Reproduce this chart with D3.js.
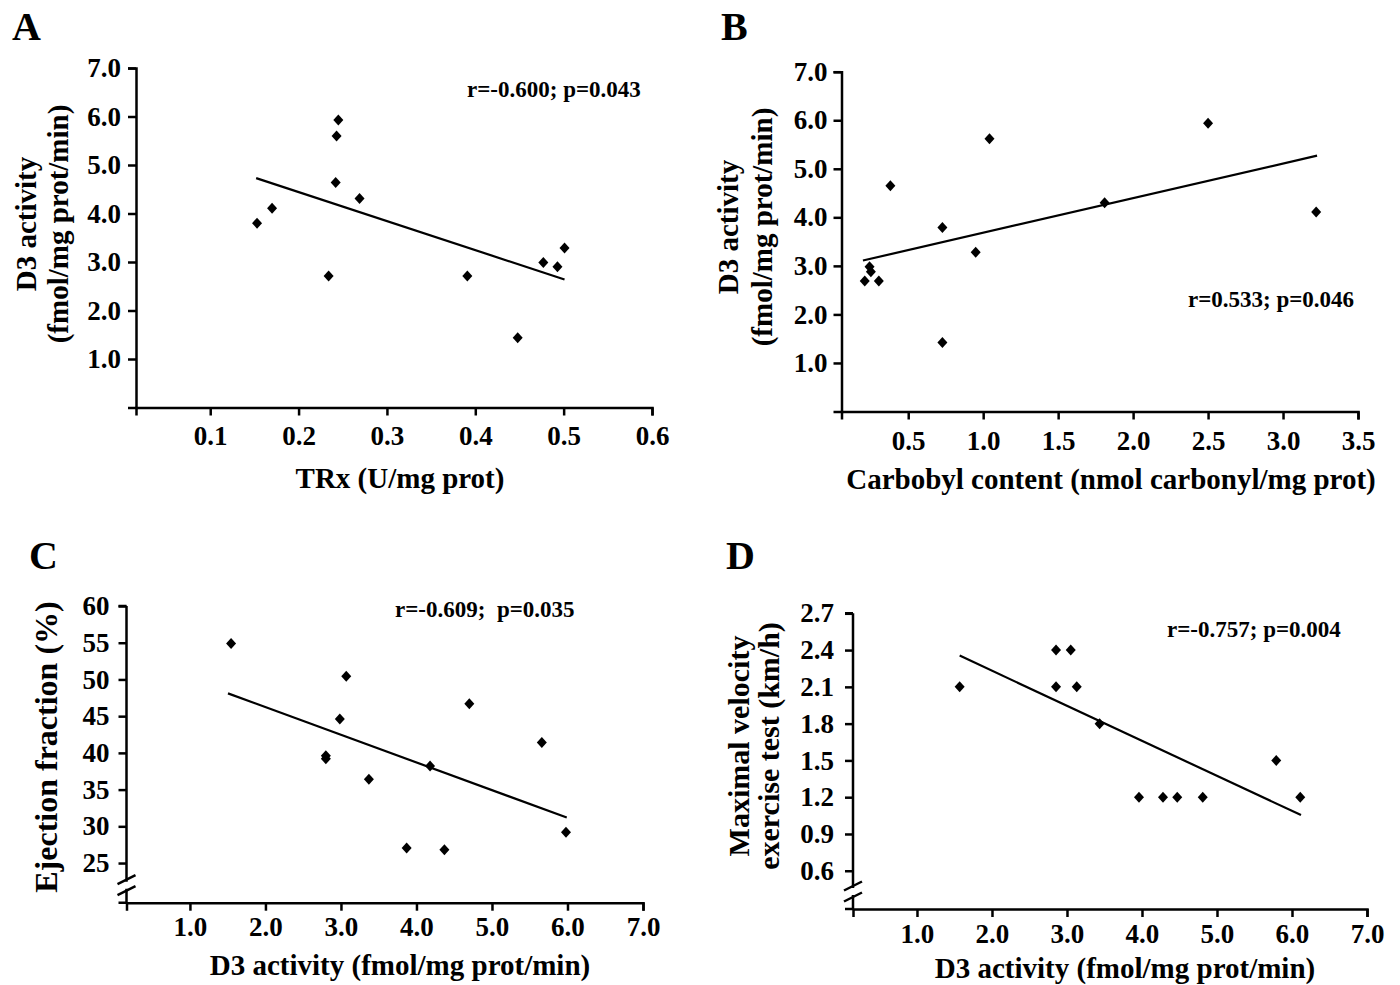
<!DOCTYPE html>
<html>
<head>
<meta charset="utf-8">
<title>D3 activity correlations</title>
<script src="https://cdn.jsdelivr.net/npm/d3@7/dist/d3.min.js"></script>
<style>
  body { margin: 0; background: #fff; }
  svg text { font-family: "Liberation Serif", "Times New Roman", serif; font-weight: bold; fill: #000; }
</style>
</head>
<body>
<script>
// ---- data ----
// A: TRx (U/mg prot) vs D3 activity
var trxA  = [0.153, 0.170, 0.234, 0.242, 0.243, 0.245, 0.269, 0.391, 0.448, 0.477, 0.493, 0.501];
var d3A   = [3.80, 4.11, 2.71, 4.64, 5.60, 5.93, 4.31, 2.71, 1.44, 2.99, 2.90, 3.29];
var fitA  = [[0.152, 4.73], [0.501, 2.64]];

// B: carbonyl content vs D3 activity
var carbB = [0.210, 0.242, 0.251, 0.304, 0.381, 0.728, 0.728, 0.950, 1.042, 1.810, 2.500, 3.221];
var d3B   = [2.69, 2.98, 2.88, 2.69, 4.65, 3.79, 1.42, 3.28, 5.62, 4.30, 5.94, 4.11];
var fitB  = [[0.198, 3.11], [3.227, 5.27]];

// C: D3 activity vs ejection fraction
var d3C   = [1.545, 2.80, 2.80, 2.985, 3.07, 3.37, 3.87, 4.18, 4.37, 4.70, 5.66, 5.98];
var efC   = [54.9, 39.6, 39.2, 44.6, 50.45, 36.4, 27.05, 38.2, 26.8, 46.7, 41.4, 29.2];
var fitC  = [[1.504, 48.1], [5.99, 31.2]];

// D: D3 activity vs maximal velocity
var d3D   = [1.569, 2.854, 3.05, 2.854, 3.13, 3.435, 3.96, 4.28, 4.47, 4.81, 5.79, 6.11];
var velD  = [2.1, 2.4, 2.4, 2.1, 2.1, 1.8, 1.2, 1.2, 1.2, 1.2, 1.5, 1.2];
var fitD  = [[1.569, 2.355], [6.12, 1.054]];

// tick values
var ticksTrx  = [0.1, 0.2, 0.3, 0.4, 0.5, 0.6];
var ticksCarb = [0.5, 1.0, 1.5, 2.0, 2.5, 3.0, 3.5];
var ticksD3   = [1, 2, 3, 4, 5, 6, 7];
var ticksEf   = [25, 30, 35, 40, 45, 50, 55, 60];
var ticksVel  = [0.6, 0.9, 1.2, 1.5, 1.8, 2.1, 2.4, 2.7];

// texts
var letters = ["A", "B", "C", "D"];
var notes   = ["r=-0.600; p=0.043", "r=0.533; p=0.046", "r=-0.609;\u00a0\u00a0p=0.035", "r=-0.757; p=0.004"];
var xTitles = ["TRx (U/mg prot)", "Carbobyl content (nmol carbonyl/mg prot)",
               "D3 activity (fmol/mg prot/min)", "D3 activity (fmol/mg prot/min)"];
var yTitles = [["D3 activity", "(fmol/mg prot/min)"], ["D3 activity", "(fmol/mg prot/min)"],
               ["Ejection fraction (%)"], ["Maximal velocity", "exercise test (km/h)"]];

// ---- layout ----
var panels = [
  { xs: trxA, ys: d3A, fit: fitA, xd: [0.016, 0.6], xr: [136, 652], yd: [0, 7], yr: [407.5, 68],
    xt: ticksTrx, yt: ticksD3, xf: ".1f", yf: ".1f", xpad: 10, ypad: 7, broken: false,
    letter: [12, 40], note: [467, 97], xTitle: [400, 488], yTitle: [[26, 224], [58, 224]], ySize: 29 },
  { xs: carbB, ys: d3B, fit: fitB, xd: [0.055, 3.5], xr: [841.5, 1358], yd: [0, 7], yr: [411.5, 71.7],
    xt: ticksCarb, yt: ticksD3, xf: ".1f", yf: ".1f", xpad: 11, ypad: 6, broken: false,
    letter: [721, 40], note: [1188, 307], xTitle: [1111, 489], yTitle: [[728, 227], [762, 227]], ySize: 29 },
  { xs: d3C, ys: efC, fit: fitC, xd: [0.16, 7], xr: [126.5, 643], yd: [19.6, 60], yr: [902.7, 606],
    xt: ticksD3, yt: ticksEf, xf: ".1f", yf: "d", xpad: 6, ypad: 9, broken: true,
    letter: [29, 569], note: [395, 617], xTitle: [400, 975], yTitle: [[46, 747]], ySize: 32 },
  { xs: d3D, ys: velD, fit: fitD, xd: [0.147, 7], xr: [853, 1367], yd: [0.288, 2.7], yr: [909, 613.3],
    xt: ticksD3, yt: ticksVel, xf: ".1f", yf: ".1f", xpad: 7, ypad: 11, broken: true,
    letter: [726, 569], note: [1167, 637], xTitle: [1125, 978], yTitle: [[738, 746], [768, 746]], ySize: 30 }
];

var svg = d3.select("body").append("svg")
  .attr("width", 1400)
  .attr("height", 985);

var diamond = "M0,-5.5L5,0L0,5.5L-5,0Z";

panels.forEach(function(p, i) {
  var x = d3.scaleLinear().domain(p.xd).range(p.xr);
  var y = d3.scaleLinear().domain(p.yd).range(p.yr);
  var g = svg.append("g");
  var x0 = p.xr[0], yBase = p.yr[0];

  // x axis
  var gx = g.append("g")
    .attr("transform", "translate(0," + yBase + ")")
    .call(d3.axisBottom(x).tickValues(p.xt).tickFormat(d3.format(p.xf))
      .tickSize(8).tickSizeOuter(8).tickPadding(p.xpad));
  gx.attr("font-size", 27);

  // y axis
  var gy = g.append("g")
    .attr("transform", "translate(" + x0 + ",0)")
    .call(d3.axisLeft(y).tickValues(p.yt).tickFormat(d3.format(p.yf))
      .tickSize(8).tickSizeOuter(8).tickPadding(p.ypad));
  gy.attr("font-size", 27);

  // broken y axis: two slashes just above the x axis
  if (p.broken) {
    gy.select(".domain").remove();
    var b1 = yBase - 23, b2 = yBase - 12;
    g.append("path")
      .attr("d", "M" + x0 + "," + p.yr[1] + "V" + (b1 + 2) +
                 "M" + x0 + "," + (b2 - 2) + "V" + yBase + "H" + (x0 - 8) +
                 "M" + (x0 - 8) + "," + p.yr[1] + "H" + x0)
      .attr("fill", "none").attr("stroke", "#000").attr("stroke-width", 2.5);
    [b1, b2].forEach(function(b) {
      g.append("line")
        .attr("x1", x0 - 9).attr("y1", b + 4.5)
        .attr("x2", x0 + 9).attr("y2", b - 4.5)
        .attr("stroke", "#000").attr("stroke-width", 2.5);
    });
  }

  g.selectAll(".domain, .tick line").attr("stroke", "#000").attr("stroke-width", 2.5);

  // regression line
  g.append("line")
    .attr("x1", x(p.fit[0][0])).attr("y1", y(p.fit[0][1]))
    .attr("x2", x(p.fit[1][0])).attr("y2", y(p.fit[1][1]))
    .attr("stroke", "#000").attr("stroke-width", 2.2);

  // points
  g.selectAll(".pt").data(p.xs).enter().append("path")
    .attr("class", "pt")
    .attr("d", diamond)
    .attr("transform", function(d, k) { return "translate(" + x(d) + "," + y(p.ys[k]) + ")"; })
    .attr("fill", "#000");

  // texts
  g.append("text").attr("x", p.letter[0]).attr("y", p.letter[1])
    .attr("font-size", 40).text(letters[i]);

  g.append("text").attr("x", p.note[0]).attr("y", p.note[1])
    .attr("font-size", 23).text(notes[i]);

  g.append("text").attr("x", p.xTitle[0]).attr("y", p.xTitle[1])
    .attr("text-anchor", "middle").attr("font-size", 29).text(xTitles[i]);

  yTitles[i].forEach(function(t, k) {
    g.append("text")
      .attr("transform", "translate(" + p.yTitle[k][0] + "," + p.yTitle[k][1] + ") rotate(-90)")
      .attr("text-anchor", "middle").attr("dy", "0.35em")
      .attr("font-size", p.ySize).text(t);
  });
});
</script>
</body>
</html>
